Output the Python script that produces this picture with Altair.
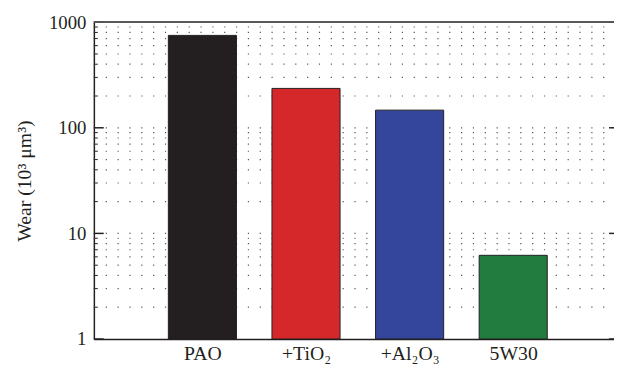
import altair as alt
import pandas as pd

# ---- data ----
categories = ["PAO", "+TiO₂", "+Al₂O₃", "5W30"]
positions = [1, 2, 3, 4]
wear = [750, 236, 147, 6.2]
colors = ["#231f20", "#d5282a", "#33469b", "#237c3f"]
y_ticks = [1, 10, 100, 1000]
minor_ticks = [m * 10 ** k for k in range(3) for m in range(2, 10)]
grid_rows = [10, 100] + minor_ticks

W, H = 527, 321
FONT = "Liberation Serif"
FS = 19

bars_df = pd.DataFrame({"pos": positions, "wear": wear, "cat": categories})
grid_df = pd.DataFrame({"v": grid_rows})
major_df = pd.DataFrame({"v": y_ticks})
minor_df = pd.DataFrame({"v": minor_ticks})

yscale = alt.Scale(type="log", domain=[1, 1000], nice=False)
xscale = alt.Scale(domain=[0, W / 107], nice=False, zero=False)

label_expr = "[" + ",".join(f"'{c}'" for c in categories) + "][datum.value - 1]"

y_axis = alt.Axis(
    values=y_ticks, format="d", ticks=False, tickSize=0, labelPadding=8,
    labelFont=FONT, labelFontSize=FS, labelColor="#231f20",
    domainColor="#231f20", domainWidth=1.5, grid=False,
    title="Wear (10³ μm³)", titleFont=FONT, titleFontSize=20,
    titleFontWeight="normal", titleColor="#231f20",
    titleX=-70, titleY=H / 2, titleAngle=270,
    titleAlign="center", titleBaseline="middle",
)
x_axis = alt.Axis(
    values=positions, labelExpr=label_expr, title=None, ticks=False,
    tickSize=0, labelPadding=21, labelBaseline="alphabetic",
    labelFont=FONT, labelFontSize=20, labelColor="#231f20",
    domainColor="#231f20", domainWidth=1.5, grid=False,
)

grid = alt.Chart(grid_df).mark_rule(
    color="#555555", strokeWidth=1.2, strokeDash=[1.2, 10.8]
).encode(
    y=alt.Y("v:Q", scale=yscale, axis=y_axis),
    x=alt.value(0), x2=alt.value(W),
)

bars = alt.Chart(bars_df).mark_bar(
    size=69, stroke="#231f20", strokeWidth=1, orient="vertical"
).encode(
    x=alt.X("pos:Q", scale=xscale, axis=x_axis),
    y=alt.Y("wear:Q", scale=yscale, axis=y_axis),
    y2=alt.datum(1),
    color=alt.Color("cat:N", scale=alt.Scale(domain=categories, range=colors), legend=None),
)

major_left = alt.Chart(major_df).mark_rule(color="#231f20", strokeWidth=1.5).encode(
    y=alt.Y("v:Q", scale=yscale, axis=y_axis), x=alt.value(0), x2=alt.value(10))
minor_left = alt.Chart(minor_df).mark_rule(color="#231f20", strokeWidth=1).encode(
    y=alt.Y("v:Q", scale=yscale, axis=y_axis), x=alt.value(0), x2=alt.value(4))
major_right = alt.Chart(major_df).mark_rule(color="#231f20", strokeWidth=1.5).encode(
    y=alt.Y("v:Q", scale=yscale, axis=y_axis), x=alt.value(W - 5), x2=alt.value(W))
top_line = alt.Chart(major_df).mark_rule(color="#555555", strokeWidth=1.2).encode(
    y=alt.value(0), x=alt.value(0), x2=alt.value(W))

chart = alt.layer(grid, bars, major_left, minor_left, major_right, top_line).properties(
    width=W, height=H,
    autosize=alt.AutoSizeParams(type="none"),
    padding={"left": 87, "top": 12, "right": 0, "bottom": 27},
    background="white",
).configure_view(stroke=None)

chart.save("out.html", embed_options={"renderer": "svg", "actions": False})
